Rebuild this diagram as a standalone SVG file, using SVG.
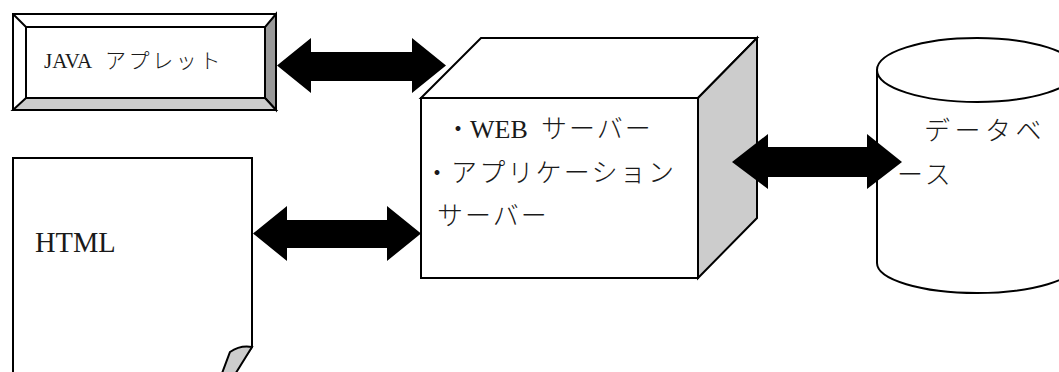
<svg xmlns="http://www.w3.org/2000/svg" width="1059" height="372" viewBox="0 0 1059 372">
<defs>
<style>
.ln{stroke:#000;stroke-width:2;stroke-linejoin:miter}
.w{fill:#fff}
.txt{font-family:"Liberation Serif","Noto Sans CJK JP",serif;fill:#1a1a1a}
.jp{font-family:"Noto Sans CJK JP",sans-serif;font-weight:300}
.arrow{fill:#000;stroke:none}
</style>
</defs>
<rect x="0" y="0" width="1059" height="372" fill="#fff"/>
<g id="java-applet">
<rect x="13" y="14" width="263" height="96" class="ln w"/>
<polygon points="276,14 265,27 265,98 276,110" fill="#999" class="ln"/>
<polygon points="13,110 26,98 265,98 276,110" fill="#ccc" class="ln"/>
<line x1="13" y1="14" x2="26" y2="27" class="ln"/>
<rect x="26" y="27" width="239" height="71" class="ln w"/>
<text class="txt" x="44" y="68" font-size="21">JAVA<tspan class="jp" x="105" font-size="21" letter-spacing="2.6">アプレット</tspan></text>
</g>
<g id="html-doc">
<path d="M13,380 L13,158 L252,158 L252,347 L232,376" class="ln w"/>
<path d="M252,347 Q240,345 230,352 L221,376 L234,376 Z" fill="#ccc" class="ln"/>
<text class="txt" x="35" y="252" font-size="28.5">HTML</text>
</g>
<g id="server">
<polygon points="421,98 481,38 757,38 698,98" class="ln w"/>
<polygon points="698,98 757,38 757,218 698,278" fill="#ccc" class="ln"/>
<rect x="421" y="98" width="277" height="180" class="ln w"/>
<text class="txt" font-size="26" y="138"><tspan class="jp" x="445">・</tspan><tspan x="470">WEB</tspan><tspan class="jp" x="541" letter-spacing="2">サーバー</tspan></text>
<text class="txt" font-size="26" y="182"><tspan class="jp" x="424">・</tspan><tspan class="jp" x="451" letter-spacing="2.2">アプリケーション</tspan></text>
<text class="txt jp" font-size="26" y="225" x="437" letter-spacing="2">サーバー</text>
</g>
<g id="database">
<path d="M877,70 L877,263 A100,30 0 0 0 1077,263 L1077,70" class="ln w"/>
<ellipse cx="977" cy="70" rx="100" ry="32" class="ln w"/>
<text class="txt jp" font-size="26"><tspan x="924" y="140" letter-spacing="4.5">データベ</tspan><tspan x="897" y="184" letter-spacing="3">ース</tspan></text>
</g>
<g id="connectors">
<polygon class="arrow" points="277,65.5 311,38 311,52 412,52 412,38 446,65.5 412,93 412,81 311,81 311,93"/>
<polygon class="arrow" points="253,233.5 287,206 287,220 387,220 387,206 421,233.5 387,261 387,248 287,248 287,261"/>
<polygon class="arrow" points="732,162 768,134 768,147 867,147 867,134 902,162 867,189 867,177 768,177 768,189"/>
</g>
</svg>
